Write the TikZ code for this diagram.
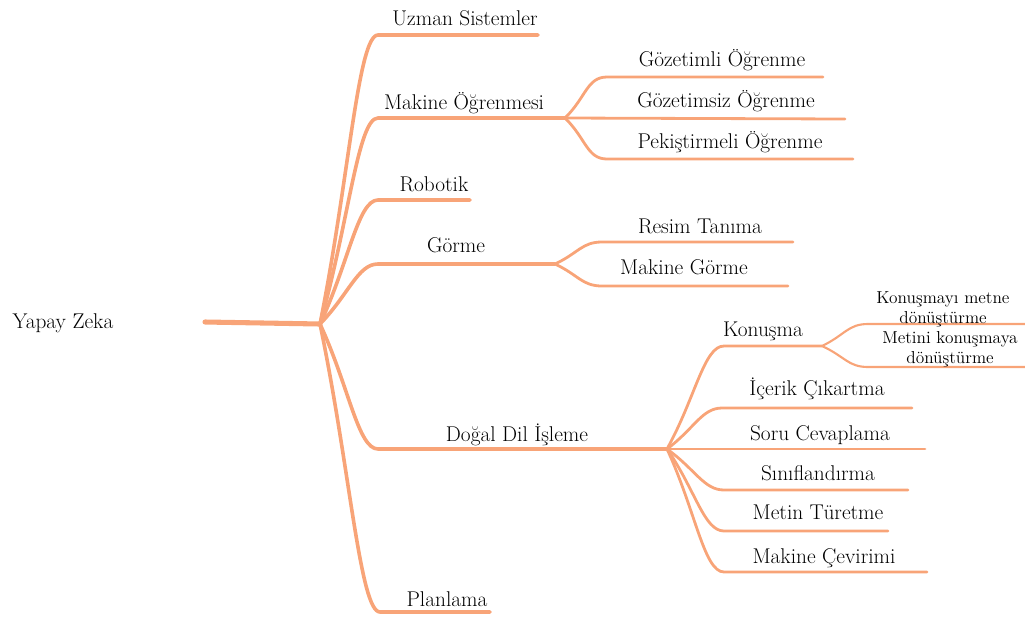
\documentclass[tikz,border=0pt]{standalone}
\usepackage{fontspec}
\usetikzlibrary{calc}
\definecolor{branch}{RGB}{248,164,120}
\tikzset{
  trunk/.style={draw=branch, line width=3.8pt, line cap=round},
  limb/.style={draw=branch, line width=2.7pt, line cap=round, line join=round},
  twig/.style={draw=branch, line width=2.1pt, line cap=round, line join=round},
  leaf/.style={draw=branch, line width=1.6pt, line cap=round, line join=round},
  lbl/.style={anchor=base, inner sep=0pt, font=\rmfamily\fontsize{16}{18}\selectfont},
  small/.style={anchor=base, inner sep=0pt, align=center, font=\rmfamily\fontsize{13}{15}\selectfont},
}
% curved connector: hub -> corner (S-bend), then straight on to the end
\newcommand\bough[4]{\draw[#1] (#2) .. controls ($(#2)!.5!(#3)$) and ($(#3)+(-20,0)$) .. (#3) -- (#4);}
\begin{document}
\begin{tikzpicture}[x=0.75pt,y=-0.75pt]
\useasboundingbox (0,0) rectangle (1025,619);

% hubs
\coordinate (root) at (205,322);
\coordinate (hub) at (320,324);
\coordinate (ml) at (565,118);
\coordinate (vis) at (555,264);
\coordinate (nlp) at (667,449);
\coordinate (sp) at (822,346);

% corners and ends of the main branches
\coordinate (c-us) at (378,35);   \coordinate (e-us) at (538,35);
\coordinate (c-ml) at (378,118);
\coordinate (c-rb) at (378,200);  \coordinate (e-rb) at (470,200);
\coordinate (c-vs) at (378,264);
\coordinate (c-nl) at (378,449);
\coordinate (c-pl) at (380,612);  \coordinate (e-pl) at (490,612);

% machine learning
\coordinate (c-ml1) at (607,77);  \coordinate (e-ml1) at (823,77);
\coordinate (e-ml2) at (845,119);
\coordinate (c-ml3) at (607,159); \coordinate (e-ml3) at (853,159);

% vision
\coordinate (c-vs1) at (602,242); \coordinate (e-vs1) at (793,242);
\coordinate (c-vs2) at (602,286); \coordinate (e-vs2) at (788,286);

% natural language processing
\coordinate (c-n1) at (724,346);
\coordinate (c-n2) at (722,408); \coordinate (e-n2) at (912,408);
\coordinate (e-n3) at (925,449);
\coordinate (c-n4) at (724,490); \coordinate (e-n4) at (908,490);
\coordinate (c-n5) at (724,531); \coordinate (e-n5) at (888,531);
\coordinate (c-n6) at (724,572); \coordinate (e-n6) at (927,572);

% speech
\coordinate (c-s1) at (868,324); \coordinate (e-s1) at (1025,324);
\coordinate (c-s2) at (868,367); \coordinate (e-s2) at (1025,367);

% connectors
\draw[trunk] (root) -- (hub);
\bough{limb}{hub}{c-us}{e-us}
\bough{limb}{hub}{c-ml}{ml}
\bough{limb}{hub}{c-rb}{e-rb}
\bough{limb}{hub}{c-vs}{vis}
\bough{limb}{hub}{c-nl}{nlp}
\bough{limb}{hub}{c-pl}{e-pl}

\bough{twig}{ml}{c-ml1}{e-ml1}
\draw[twig] (ml) -- (e-ml2);
\bough{twig}{ml}{c-ml3}{e-ml3}

\bough{twig}{vis}{c-vs1}{e-vs1}
\bough{twig}{vis}{c-vs2}{e-vs2}

\bough{twig}{nlp}{c-n1}{sp}
\bough{twig}{nlp}{c-n2}{e-n2}
\draw[twig] (nlp) -- (e-n3);
\bough{twig}{nlp}{c-n4}{e-n4}
\bough{twig}{nlp}{c-n5}{e-n5}
\bough{twig}{nlp}{c-n6}{e-n6}

\bough{leaf}{sp}{c-s1}{e-s1}
\bough{leaf}{sp}{c-s2}{e-s2}

% labels
\node[lbl] (t-root) at (63,328) {Yapay Zeka};
\node[lbl] (t-us) at (465,25) {Uzman Sistemler};
\node[lbl] (t-ml) at (464,109) {Makine Öğrenmesi};
\node[lbl] (t-rb) at (434,191) {Robotik};
\node[lbl] (t-vs) at (456,252) {Görme};
\node[lbl] (t-nl) at (517,441) {Doğal Dil İşleme};
\node[lbl] (t-pl) at (447,606) {Planlama};

\node[lbl] (t-ml1) at (722,66) {Gözetimli Öğrenme};
\node[lbl] (t-ml2) at (726,107) {Gözetimsiz Öğrenme};
\node[lbl] (t-ml3) at (730,148) {Pekiştirmeli Öğrenme};

\node[lbl] (t-vs1) at (700,233) {Resim Tanıma};
\node[lbl] (t-vs2) at (684,274) {Makine Görme};

\node[lbl] (t-n1) at (763,336) {Konuşma};
\node[lbl] (t-n2) at (817,395) {İçerik Çıkartma};
\node[lbl] (t-n3) at (820,440) {Soru Cevaplama};
\node[lbl] (t-n4) at (818,480) {Sınıflandırma};
\node[lbl] (t-n5) at (818,519) {Metin Türetme};
\node[lbl] (t-n6) at (824,563) {Makine Çevirimi};

\node[small] (t-s1a) at (943,303) {Konuşmayı metne};
\node[small] (t-s1b) at (943,323) {dönüştürme};
\node[small] (t-s2a) at (950,343) {Metini konuşmaya};
\node[small] (t-s2b) at (950,363) {dönüştürme};
\end{tikzpicture}
\end{document}
